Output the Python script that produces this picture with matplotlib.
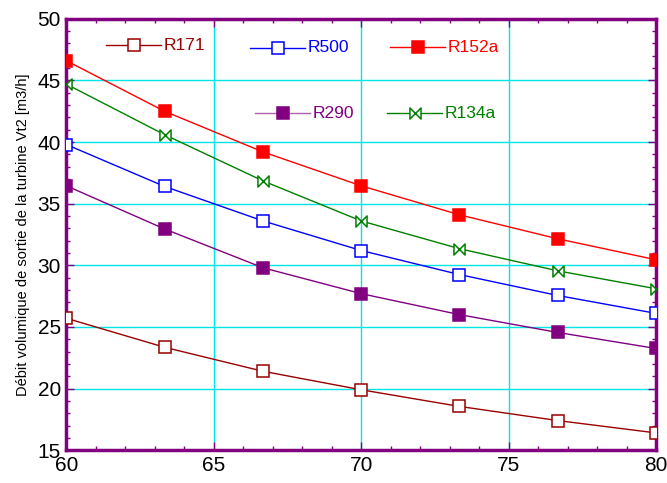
import numpy as np
import matplotlib.pyplot as plt
from matplotlib.path import Path
from matplotlib.ticker import MultipleLocator

plt.rcParams['font.family'] = ['Liberation Sans', 'DejaVu Sans']

# Température (abscisse) et débits volumiques pour chaque fluide
temperature = [60, 63.33, 66.67, 70, 73.33, 76.67, 80]
r171 = [25.7, 23.35, 21.4, 19.9, 18.55, 17.4, 16.4]
r500 = [39.8, 36.4, 33.6, 31.2, 29.25, 27.55, 26.1]
r152a = [46.6, 42.5, 39.2, 36.45, 34.1, 32.15, 30.45]
r290 = [36.45, 32.95, 29.8, 27.7, 26.0, 24.55, 23.25]
r134a = [44.7, 40.6, 36.85, 33.6, 31.35, 29.55, 28.1]

# marqueur "noeud papillon" pour R134a
bowtie = Path([(-1, -1), (-1, 1), (1, -1), (1, 1), (-1, -1)],
              [Path.MOVETO, Path.LINETO, Path.LINETO, Path.LINETO, Path.CLOSEPOLY])

purple = '#800080'

series = [
    # nom, valeurs, couleur, marqueur, remplissage, taille, position légende (x, y)
    ('R171', r171, '#990000', 's', 'white', 8, (106, 45)),
    ('R500', r500, '#0000ff', 's', 'white', 8, (250, 48)),
    ('R152a', r152a, '#ff0000', 's', '#ff0000', 8.5, (390, 47)),
    ('R290', r290, purple, 's', purple, 8.5, (255, 113)),
    ('R134a', r134a, '#008000', bowtie, 'white', 8, (387, 113)),
]

fig = plt.figure(figsize=(6.67, 4.83), dpi=100)
ax = fig.add_axes([0.0995, 0.068, 0.884, 0.893])

for name, vals, col, mk, fc, ms, _ in series:
    ax.plot(temperature, vals, color=col, lw=1, marker=mk, markersize=ms,
            markerfacecolor=fc, markeredgecolor=col, markeredgewidth=1.1, zorder=3)

ax.set_xlim(60, 80)
ax.set_ylim(15, 50)
ax.xaxis.set_major_locator(MultipleLocator(5))
ax.xaxis.set_minor_locator(MultipleLocator(1))
ax.yaxis.set_major_locator(MultipleLocator(5))
ax.yaxis.set_minor_locator(MultipleLocator(1))
ax.grid(True, which='major', color='#00e5e5', lw=1, zorder=0)

for sp in ax.spines.values():
    sp.set_color(purple)
    sp.set_linewidth(2.5)

ax.tick_params(which='both', direction='in', top=True, right=True, color=purple,
               labelsize=15)
ax.tick_params(which='major', length=6, width=1, pad=4)
ax.tick_params(which='minor', length=3, width=1)

ax.set_ylabel('Débit volumique de sortie de la turbine Vt2 [m3/h]', fontsize=10.5,
              labelpad=5)

# légende dessinée à la main dans le cadre
W, H = 667, 483
for name, vals, col, mk, fc, ms, (px, py) in series:
    x0, x1 = px / W, (px + 55) / W
    yy = 1 - py / H
    lcol = '#b060b0' if name == 'R290' else col
    fig.add_artist(plt.Line2D([x0, x1], [yy, yy], transform=fig.transFigure,
                              color=lcol, lw=1))
    fig.add_artist(plt.Line2D([(x0 + x1) / 2], [yy], transform=fig.transFigure,
                              marker=mk, markersize=ms, markerfacecolor=fc,
                              markeredgecolor=col, markeredgewidth=1.1, lw=0))
    fig.text((px + 58) / W, yy, name, color=col, fontsize=12.5, va='center', ha='left')

fig.savefig('out.png', dpi=100)
